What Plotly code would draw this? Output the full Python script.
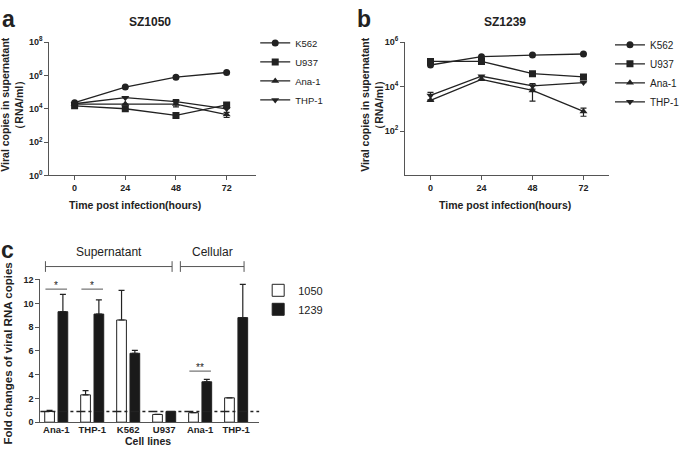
import plotly.graph_objects as go

# ---------------- data ----------------
hours = [0, 24, 48, 72]
lines = ["K562", "U937", "Ana-1", "THP-1"]
symbols = ["circle", "square", "triangle-up", "triangle-down"]

sz1050_k562 = [2.3e4, 2.0e5, 7.8e5, 1.5e6]
sz1050_u937 = [1.5e4, 1.0e4, 4.0e3, 1.7e4]
sz1050_ana1 = [1.9e4, 1.9e4, 1.9e4, 4.5e3]
sz1050_thp1 = [2.0e4, 4.6e4, 2.7e4, 1.0e4]
sz1050_err = {
    "K562": [0, 0, 0, 0],
    "U937": [0, 0, 0, 6.0e3],
    "Ana-1": [0, 0, 6.0e3, 1.5e3],
    "THP-1": [0, 0, 8.0e3, 0],
}

sz1239_k562 = [9.3e4, 2.2e5, 2.6e5, 2.9e5]
sz1239_u937 = [1.35e5, 1.35e5, 3.8e4, 2.7e4]
sz1239_ana1 = [2.4e3, 2.1e4, 6.7e3, 7.6e2]
sz1239_thp1 = [4.0e3, 2.9e4, 1.07e4, 1.5e4]
sz1239_err = {
    "K562": [0, 0, 0, 0],
    "U937": [2.0e4, 0, 0, 6.0e3],
    "Ana-1": [0, 0, 4.5e3, 3.0e2],
    "THP-1": [1.5e3, 0, 3.0e3, 0],
}

cell_labels = ["Ana-1", "THP-1", "K562", "U937", "Ana-1", "THP-1"]
fold_1050 = [0.9, 2.3, 8.6, 0.65, 0.8, 2.05]
fold_1050_err = [0.1, 0.35, 2.5, 0.0, 0.0, 0.0]
fold_1239 = [9.3, 9.1, 5.8, 0.9, 3.4, 8.8]
fold_1239_err = [1.45, 1.2, 0.25, 0.0, 0.2, 2.8]
baseline = 0.9
sig_marks = [(0, 11.2, "*"), (1, 11.2, "*"), (4, 4.3, "**")]
groups = [("Supernatant", 0, 3), ("Cellular", 4, 5)]

# ---------------- figure ----------------
W, H = 685, 460
FONT = "Liberation Sans, Arial, sans-serif"
INK = "#222222"
AX = "#555555"


def px(x):
    return x / W


def py(y):
    return 1 - y / H


fig = go.Figure()

series_a = [sz1050_k562, sz1050_u937, sz1050_ana1, sz1050_thp1]
series_b = [sz1239_k562, sz1239_u937, sz1239_ana1, sz1239_thp1]

for name, sym, ys in zip(lines, symbols, series_a):
    fig.add_trace(go.Scatter(
        x=hours, y=ys, name=name, mode="lines+markers",
        line=dict(color=INK, width=1.3),
        marker=dict(symbol=sym, size=7, color=INK),
        error_y=dict(type="data", array=sz1050_err[name], color=INK, thickness=1.2, width=3),
        xaxis="x", yaxis="y", legend="legend",
    ))

for name, sym, ys in zip(lines, symbols, series_b):
    fig.add_trace(go.Scatter(
        x=hours, y=ys, name=name, mode="lines+markers",
        line=dict(color=INK, width=1.3),
        marker=dict(symbol=sym, size=7, color=INK),
        error_y=dict(type="data", array=sz1239_err[name], color=INK, thickness=1.2, width=3),
        xaxis="x2", yaxis="y2", legend="legend2",
    ))

idx = list(range(len(cell_labels)))
fig.add_trace(go.Bar(
    x=idx, y=fold_1050, name="1050", width=0.27, offset=-0.32,
    marker=dict(color="white", line=dict(color=INK, width=1)),
    error_y=dict(type="data", array=fold_1050_err, arrayminus=[0] * 6, symmetric=False,
                 color=INK, thickness=1.2, width=3),
    xaxis="x3", yaxis="y3", legend="legend3",
))
fig.add_trace(go.Bar(
    x=idx, y=fold_1239, name="1239", width=0.27, offset=0.05,
    marker=dict(color="#1a1a1a", line=dict(color=INK, width=1)),
    error_y=dict(type="data", array=fold_1239_err, arrayminus=[0] * 6, symmetric=False,
                 color=INK, thickness=1.2, width=3),
    xaxis="x3", yaxis="y3", legend="legend3",
))

tick_font = dict(family=FONT, size=9, color=INK, weight="bold")
common_ax = dict(showline=True, linecolor=AX, linewidth=1, ticks="outside", ticklen=4,
                 tickcolor=AX, showgrid=False, zeroline=False, tickfont=tick_font)

ya = [0, 2, 4, 6, 8]
fig.update_layout(
    width=W, height=H, margin=dict(l=0, r=0, t=0, b=0),
    paper_bgcolor="white", plot_bgcolor="white",
    font=dict(family=FONT, color=INK),
    xaxis=dict(domain=[px(50), px(260)], range=[-12, 86], tickvals=hours,
               anchor="y", **common_ax),
    yaxis=dict(domain=[py(173), py(36)], type="log", range=[0, 8],
               tickvals=[10 ** k for k in ya], ticktext=[f"10<sup>{k}</sup>" for k in ya],
               anchor="x", **common_ax),
    xaxis2=dict(domain=[px(411), px(618)], range=[-12, 84], tickvals=hours,
                anchor="y2", **common_ax),
    yaxis2=dict(domain=[py(173), py(36)], type="log", range=[0, 6],
                tickvals=[10 ** k for k in [2, 4, 6]], ticktext=[f"10<sup>{k}</sup>" for k in [2, 4, 6]],
                anchor="x2", **common_ax),
    xaxis3=dict(domain=[px(41), px(263)], range=[-0.44, 5.64], tickvals=idx,
                ticktext=cell_labels, anchor="y3", showline=True, linecolor=AX,
                linewidth=1, ticks="", showgrid=False, zeroline=False, ticklabelstandoff=-2,
                tickfont=dict(family=FONT, size=9.5, color=INK, weight="bold")),
    yaxis3=dict(domain=[py(426.3), py(279.3)], range=[0, 12.05], tickvals=[0, 2, 4, 6, 8, 10, 12],
                anchor="x3", **common_ax),
    barmode="overlay",
    legend=dict(x=px(259), y=py(22), xanchor="left", yanchor="top", itemwidth=30,
                font=dict(family=FONT, size=9.5, color=INK), bgcolor="rgba(0,0,0,0)"),
    legend2=dict(x=px(619), y=py(24), xanchor="left", yanchor="top", itemwidth=30,
                 font=dict(family=FONT, size=10, color=INK), bgcolor="rgba(0,0,0,0)"),
    legend3=dict(x=px(262), y=py(276), xanchor="left", yanchor="top", itemwidth=30,
                 font=dict(family=FONT, size=11, color=INK), bgcolor="rgba(0,0,0,0)"),
    showlegend=True,
)

ann = []


def add_text(text, x, y, size, bold=False, angle=0):
    ann.append(dict(text=f"<b>{text}</b>" if bold else text, x=px(x), y=py(y),
                    xref="paper", yref="paper", showarrow=False,
                    font=dict(family=FONT, size=size, color=INK), textangle=angle,
                    xanchor="center", yanchor="middle"))


add_text("a", 9, 12, 23, bold=True)
add_text("b", 369, 12, 23, bold=True)
add_text("c", 8, 249, 23, bold=True)
add_text("SZ1050", 152, 15, 12, bold=True)
add_text("SZ1239", 512, 15, 12, bold=True)
add_text("Viral copies in supernatant<br>（RNA/ml）", 12.5, 100, 10.5, bold=True, angle=-90)
add_text("Viral copies in supernatant<br>（RNA/ml）", 378, 100, 10.5, bold=True, angle=-90)
add_text("Time post infection(hours)", 137, 203, 10.5, bold=True)
add_text("Time post infection(hours)", 512, 203, 10.5, bold=True)
add_text("Cell lines", 150, 446, 10.5, bold=True)
add_text("Fold changes of viral RNA copies", 8, 356, 11.5, bold=True, angle=-90)

shapes = []
# reference dash-dot line
shapes.append(dict(type="line", xref="x3 domain", yref="y3", x0=0, x1=1, y0=baseline, y1=baseline,
                   line=dict(color=INK, width=1.5, dash="dashdot")))
# significance lines
for g, yv, txt in sig_marks:
    shapes.append(dict(type="line", xref="x3", yref="y3", x0=g - 0.3, x1=g + 0.3, y0=yv, y1=yv,
                       line=dict(color=AX, width=1)))
    ann.append(dict(text=txt, x=g, y=yv, xref="x3", yref="y3", showarrow=False,
                    yanchor="bottom", yshift=-4, font=dict(family=FONT, size=10, color=INK)))
# group brackets
for label, g0, g1 in groups:
    xa, xb = g0 - 0.3, g1 + 0.22
    if label == "Cellular":
        xa = g0 - 0.55
    shapes.append(dict(type="line", xref="x3", yref="paper", x0=xa, x1=xb, y0=py(266.5), y1=py(266.5),
                       line=dict(color=AX, width=1)))
    for xe in (xa, xb):
        shapes.append(dict(type="line", xref="x3", yref="paper", x0=xe, x1=xe, y0=py(261), y1=py(272),
                           line=dict(color=AX, width=1)))
    ann.append(dict(text=label, x=(xa + xb) / 2, y=py(252), xref="x3", yref="paper",
                    showarrow=False, font=dict(family=FONT, size=12, color=INK),
                    xanchor="center", yanchor="middle"))

fig.update_layout(annotations=ann, shapes=shapes)
fig.write_html("out.html", config={"displayModeBar": False},
               post_script="document.body.style.margin='0';")
